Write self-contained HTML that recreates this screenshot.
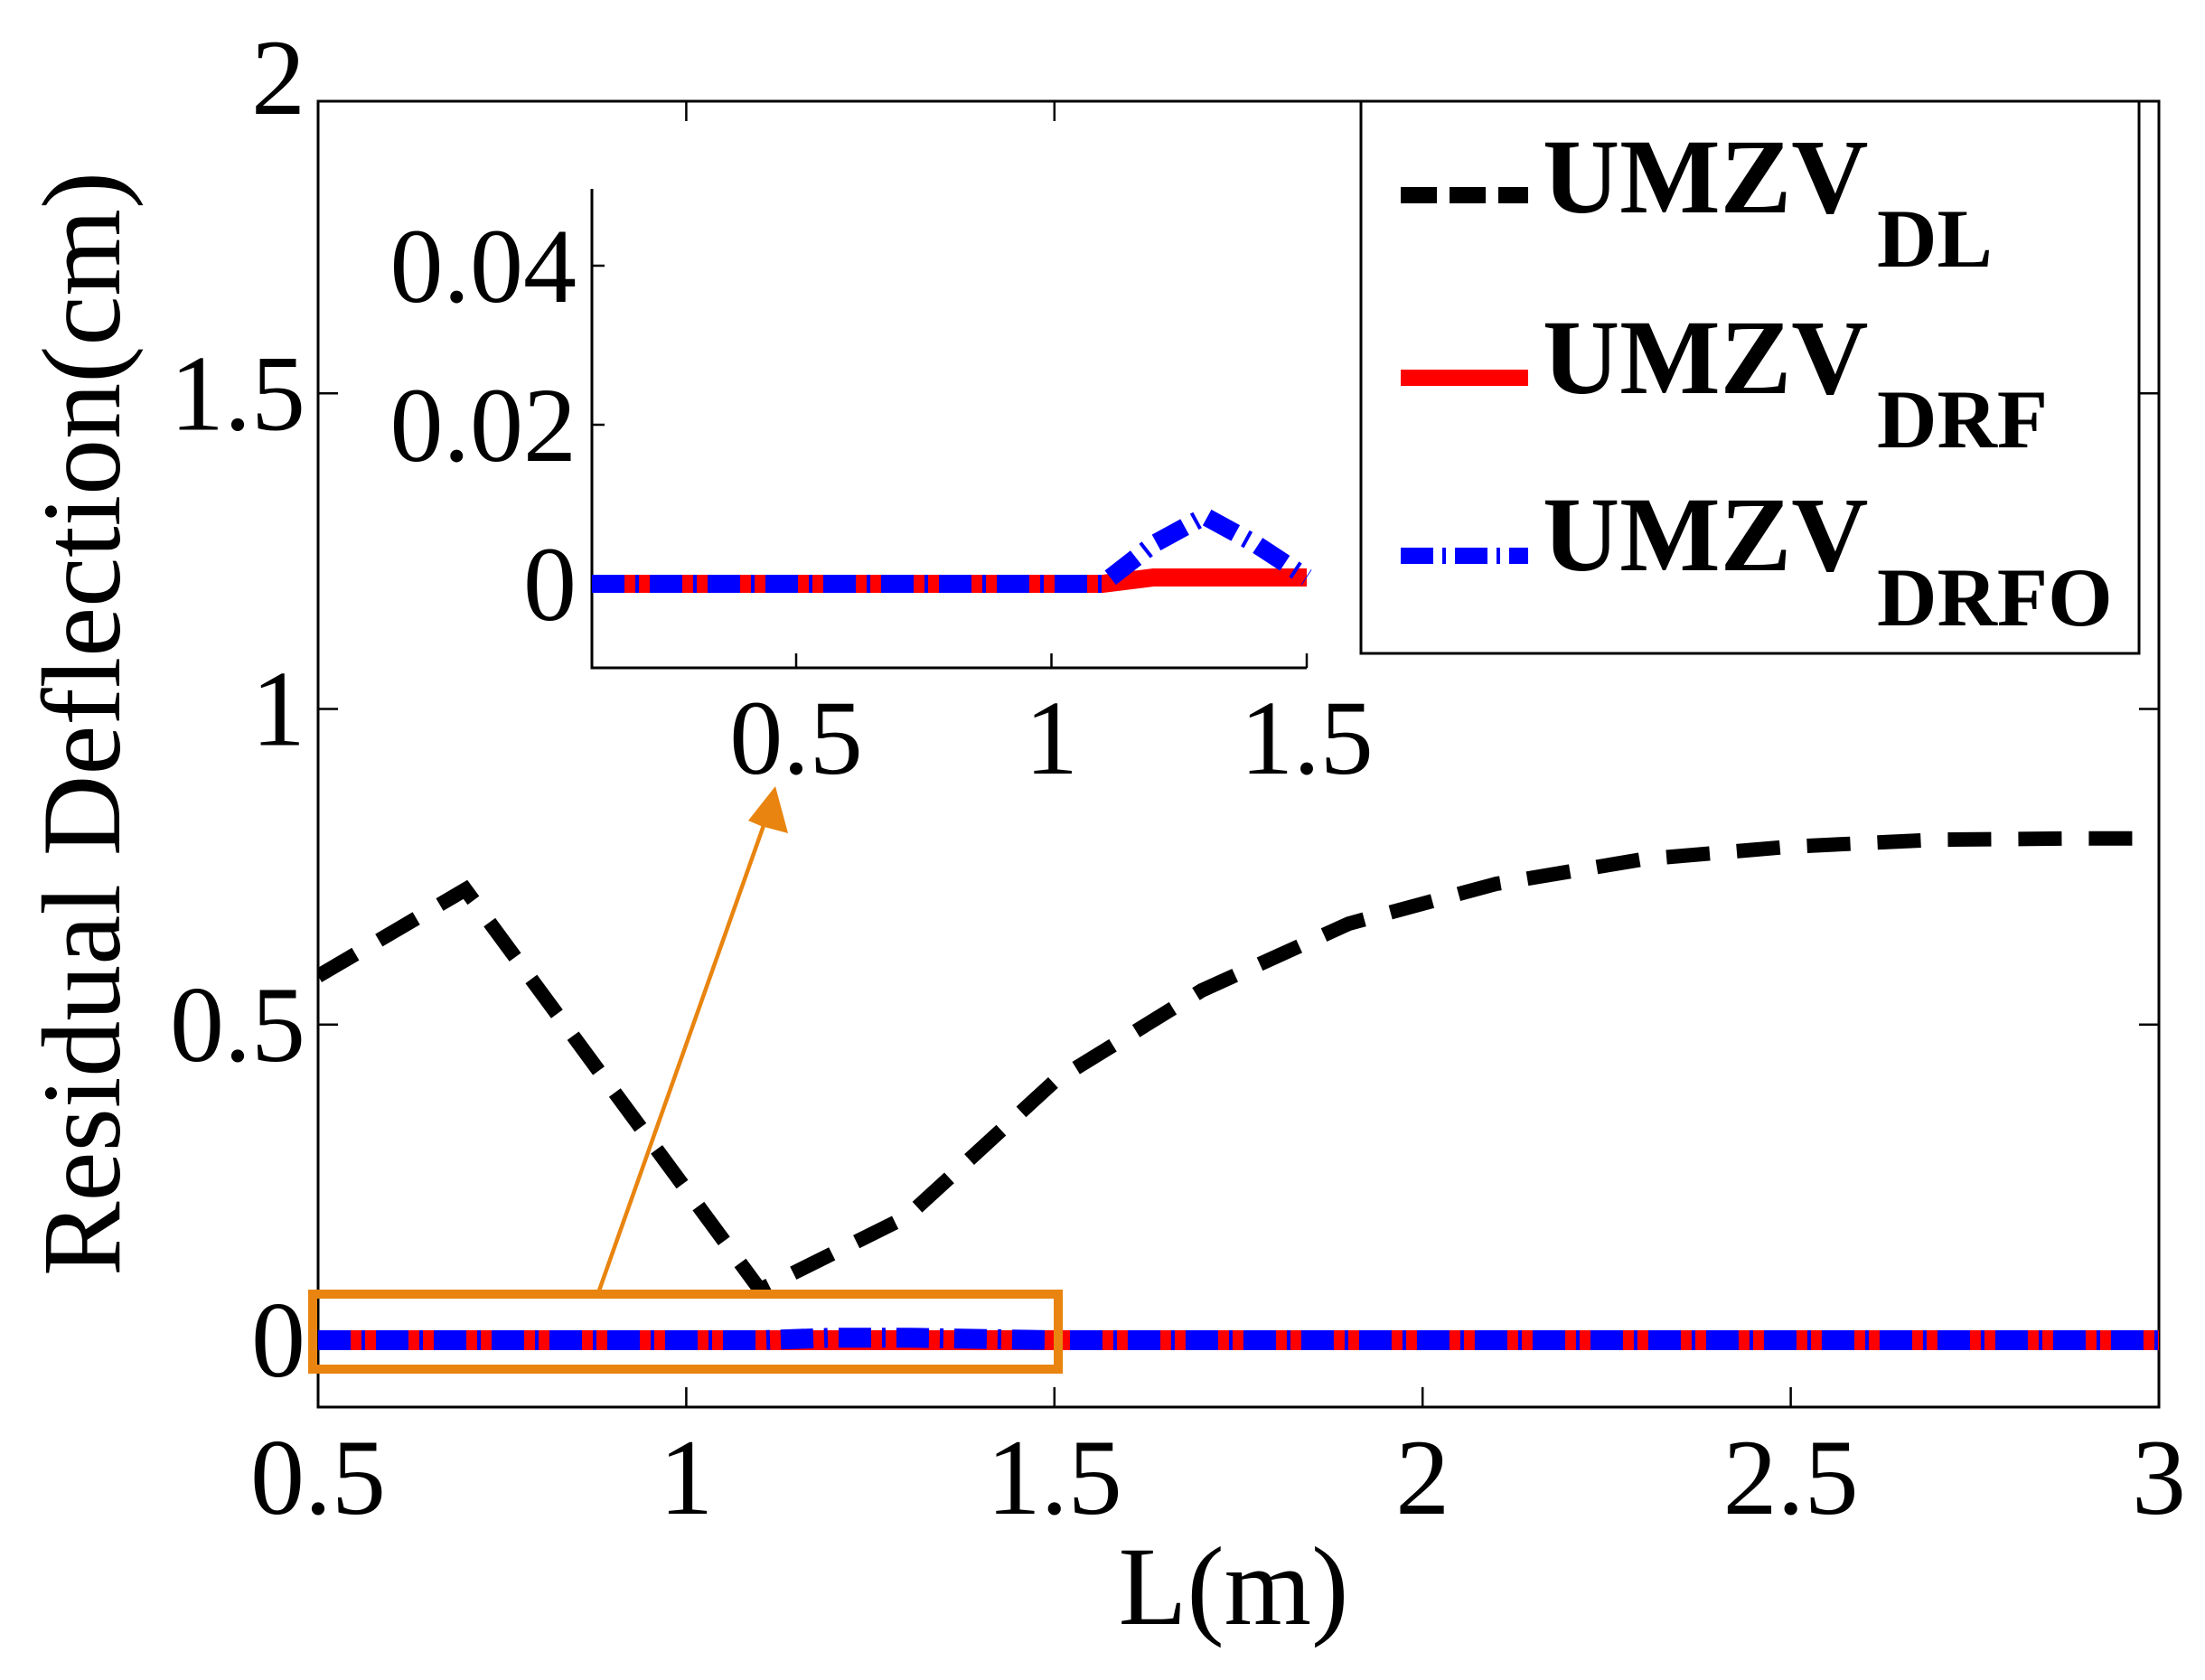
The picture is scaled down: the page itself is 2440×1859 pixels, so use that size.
<!DOCTYPE html>
<html><head><meta charset="utf-8"><style>
html,body{margin:0;padding:0;background:#fff;}
svg{display:block;}
text{font-family:"Liberation Serif",serif;fill:#000;}
</style></head><body>
<svg id="chart" width="2440" height="1859" viewBox="0 0 2440 1859" xmlns="http://www.w3.org/2000/svg">
<g id="main"></g>
<g id="inset"></g>
<g id="legend"></g>
</svg>
<script>
// main chart data
const mainX = [0.5,0.7,0.9,1.1,1.3,1.5,1.7,1.9,2.1,2.3,2.5,2.7,2.9,3.0];
const dlValues = [0.577,0.714,0.397,0.08,0.196,0.41,0.554,0.66,0.723,0.762,0.782,0.793,0.795,0.795];
const drfValues = [0,0,0,0,0,0,0,0,0,0,0,0,0,0];
const drfoX = [0.5,1.1,1.2,1.3,1.4,1.5,2.0,2.5,3.0];
const drfoValues = [0,0,0.004,0.004,0.002,0,0,0,0];
const mainXTicks = [0.5,1,1.5,2,2.5,3];
const mainXTickLabels = ["0.5","1","1.5","2","2.5","3"];
const mainYTicks = [0,0.5,1,1.5,2];
const mainYTickLabels = ["0","0.5","1","1.5","2"];
// inset data
const insetX = [0.1,0.3,0.5,0.7,0.9,1.1,1.2,1.3,1.4,1.5];
const insetDrf = [0,0,0,0,0,0,0.0008,0.0008,0.0008,0.0008];
const insetDrfo = [0,0,0,0,0,0,0.005,0.0085,0.005,0.0008];
const insetXTicks = [0.5,1,1.5];
const insetXTickLabels = ["0.5","1","1.5"];
const insetYTicks = [0,0.02,0.04];
const insetYTickLabels = ["0","0.02","0.04"];
const legendLabels = ["UMZV","UMZV","UMZV"];
const legendSubs = ["DL","DRF","DRFO"];

const NS="http://www.w3.org/2000/svg";
function mk(parent,tag,attrs,txt){const e=document.createElementNS(NS,tag);for(const k in attrs)e.setAttribute(k,attrs[k]);if(txt!==undefined)e.textContent=txt;parent.appendChild(e);return e;}

// main axes
const M={l:352,r:2389,t:112,b:1557,x0:0.5,x1:3};
const mx=v=>M.l+(v-M.x0)/(M.x1-M.x0)*(M.r-M.l);
const my=v=>1483-(v)*698.5;
const main=document.getElementById('main');

function pathFrom(xs,ys,fx,fy){return xs.map((x,i)=>(i?'L':'M')+fx(x).toFixed(1)+' '+fy(ys[i]).toFixed(1)).join(' ');}

const frame=mk(main,'rect',{x:M.l,y:M.t,width:M.r-M.l,height:M.b-M.t,fill:'none',stroke:'#000','stroke-width':3});


mainXTicks.forEach((t,i)=>{
  const x=mx(t);
  const tk=mk(main,'path',{d:`M${x} ${M.b}V${M.b-22}M${x} ${M.t}V${M.t+22}`,stroke:'#000','stroke-width':2.5});
  
  
  const lb=mk(main,'text',{x:x,y:1675,'font-size':120,'text-anchor':'middle'},mainXTickLabels[i]);
  
  
});
mainYTicks.forEach((t,i)=>{
  const y=my(t);
  if(y>=M.t && y<=M.b){
    const tk=mk(main,'path',{d:`M${M.l} ${y}H${M.l+22}M${M.r} ${y}H${M.r-22}`,stroke:'#000','stroke-width':2.5});
    
    
  }
  const lb=mk(main,'text',{x:338,y:y+40,'font-size':120,'text-anchor':'end'},mainYTickLabels[i]);
  
  
});
const xt=mk(main,'text',{x:1365,y:1797,'font-size':124,'text-anchor':'middle'},'L(m)');


const yt=mk(main,'text',{x:0,y:0,'font-size':124,'text-anchor':'middle',transform:'translate(132,801) rotate(-90)'},'Residual Deflection(cm)');



const clip=mk(main,'clipPath',{id:'mclip'});
mk(clip,'rect',{x:M.l,y:M.t,width:M.r-M.l,height:M.b-M.t});
const lines=mk(main,'g',{'clip-path':'url(#mclip)'});
const dl=mk(lines,'path',{d:pathFrom(mainX,dlValues,mx,my),fill:'none',stroke:'#000','stroke-width':16,'stroke-dasharray':'48 30'});


const rf=mk(lines,'path',{d:pathFrom(mainX,drfValues,mx,my),fill:'none',stroke:'#ff0000','stroke-width':22});


const bo=mk(lines,'path',{d:pathFrom(drfoX,drfoValues,mx,my),fill:'none',stroke:'#0000ff','stroke-width':22,'stroke-dasharray':'36 12 4 12'});



// zoom box and arrow
const zb=mk(main,'rect',{x:346,y:1432,width:825,height:83,fill:'none',stroke:'#e8840f','stroke-width':10});


const ar=mk(main,'line',{x1:663,y1:1428,x2:848,y2:905,stroke:'#e8840f','stroke-width':4.5});


const ah=mk(main,'polygon',{points:'858,870 872,922 842,914 828,908',fill:'#e8840f'});



// inset
const I={l:655,r:1446,t:209,b:739,x0:0.1,x1:1.5};
const ix=v=>I.l+(v-I.x0)/(I.x1-I.x0)*(I.r-I.l);
const iy=v=>646-v/0.02*176;
const inset=document.getElementById('inset');
const ibg=mk(inset,'rect',{x:I.l,y:I.t,width:I.r-I.l,height:I.b-I.t,fill:'#fff'});


const iax=mk(inset,'path',{d:`M${I.l} ${I.t}V${I.b}H${I.r}`,fill:'none',stroke:'#000','stroke-width':3});


insetXTicks.forEach((t,i)=>{
  const x=ix(t);
  const tk=mk(inset,'path',{d:`M${x} ${I.b}V${I.b-16}`,stroke:'#000','stroke-width':2.5});
  
  
  const lb=mk(inset,'text',{x:x,y:856,'font-size':118,'text-anchor':'middle'},insetXTickLabels[i]);
  
  
});
insetYTicks.forEach((t,i)=>{
  const y=iy(t);
  const tk=mk(inset,'path',{d:`M${I.l} ${y}H${I.l+14}`,stroke:'#000','stroke-width':2.5});
  
  
  const lb=mk(inset,'text',{x:638,y:y+40,'font-size':118,'text-anchor':'end'},insetYTickLabels[i]);
  
  
});
const irf=mk(inset,'path',{d:pathFrom(insetX,insetDrf,ix,iy),fill:'none',stroke:'#ff0000','stroke-width':20});


const ibo=mk(inset,'path',{d:pathFrom(insetX,insetDrfo,ix,iy),fill:'none',stroke:'#0000ff','stroke-width':20,'stroke-dasharray':'36 12 4 12'});



// legend
const lg=document.getElementById('legend');
const lbox=mk(lg,'rect',{x:1506,y:112,width:861,height:611,fill:'#fff',stroke:'#000','stroke-width':3});


const rowsLineY=[216,418,615];
const rowsBase=[235,435,631];
const subBase=[295,495,692];
const styles=[{stroke:'#000','stroke-width':18,'stroke-dasharray':'40 14'},{stroke:'#ff0000','stroke-width':18},{stroke:'#0000ff','stroke-width':18,'stroke-dasharray':'36 10 4 10'}];
legendLabels.forEach((t,i)=>{
  const g=mk(lg,'g',{});
  
  
  mk(g,'line',Object.assign({x1:1550,y1:rowsLineY[i],x2:1691,y2:rowsLineY[i]},styles[i]));
  mk(g,'text',{x:1707,y:rowsBase[i],'font-size':118,'font-weight':'bold'},t);
  mk(g,'text',{x:2077,y:subBase[i],'font-size':92,'font-weight':'bold'},legendSubs[i]);
});
</script>
</body></html>
